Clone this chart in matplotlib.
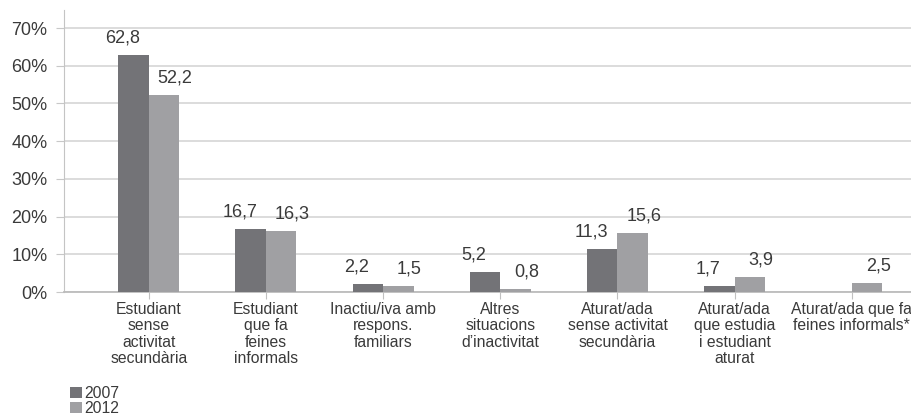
import matplotlib
matplotlib.use("Agg")
import matplotlib.pyplot as plt
import numpy as np

categories = [
    "Estudiant\nsense\nactivitat\nsecundària",
    "Estudiant\nque fa\nfeines\ninformals",
    "Inactiu/iva amb\nrespons.\nfamiliars",
    "Altres\nsituacions\nd\u2019inactivitat",
    "Aturat/ada\nsense activitat\nsecundària",
    "Aturat/ada\nque estudia\ni estudiant\naturat",
    "Aturat/ada que fa\nfeines informals*",
]
v2007 = [62.8, 16.7, 2.2, 5.2, 11.3, 1.7, None]
v2012 = [52.2, 16.3, 1.5, 0.8, 15.6, 3.9, 2.5]
yticks = [0, 10, 20, 30, 40, 50, 60, 70]

plt.rcParams['font.family'] = ['Liberation Sans', 'DejaVu Sans']
txt = '#3a3a3a'
c07 = '#737377'
c12 = '#a0a0a3'

fig = plt.figure(figsize=(9.12, 4.15), dpi=100)
ax = fig.add_axes([64/912, 123/415, 1 - 64/912, 282/415])

x = np.arange(len(categories))
w = 0.26
h07 = [v if v is not None else 0 for v in v2007]
b1 = ax.bar(x - w/2, h07, w, color=c07, label='2007', zorder=3)
b2 = ax.bar(x + w/2, v2012, w, color=c12, label='2012', zorder=3)

def fmt(v):
    return f"{v:.1f}".replace('.', ',')

for xi, v in zip(x, v2007):
    if v is not None:
        ax.annotate(fmt(v), (xi - w/2, v), xytext=(-8, 9), textcoords='offset points',
                    ha='center', va='baseline', fontsize=13, color=txt)
for xi, v in zip(x, v2012):
    ax.annotate(fmt(v), (xi + w/2, v), xytext=(8, 9), textcoords='offset points',
                ha='center', va='baseline', fontsize=13, color=txt)

ax.set_xlim(-0.723, 6.513)
ax.set_ylim(0, 74.8)
ax.set_yticks(yticks)
ax.set_yticklabels([f"{t}%" for t in yticks])
ax.set_xticks(x)
ax.set_xticklabels(categories, linespacing=1.13)
ax.tick_params(axis='y', length=6, pad=6, color='#c8c8c8', labelsize=13, labelcolor=txt)
ax.tick_params(axis='x', length=5, pad=2, color='#c0c0c0', labelsize=11.3, labelcolor=txt)
ax.grid(axis='y', color='#d6d6d6', linewidth=1.2, zorder=0)
ax.set_axisbelow(True)
for s in ['top', 'right']:
    ax.spines[s].set_visible(False)
ax.spines['left'].set_color('#c4c4c4')
ax.spines['bottom'].set_color('#bcbcbc')
ax.spines['bottom'].set_linewidth(1.3)

fig.legend(handles=[b1, b2], loc='upper left', bbox_to_anchor=(62/912, 1 - 378/415),
           frameon=False, fontsize=11.3, handlelength=0.75, handleheight=0.75,
           handletextpad=0.15, labelspacing=0.0, borderpad=0, labelcolor=txt)

fig.savefig('out.png', dpi=100)
